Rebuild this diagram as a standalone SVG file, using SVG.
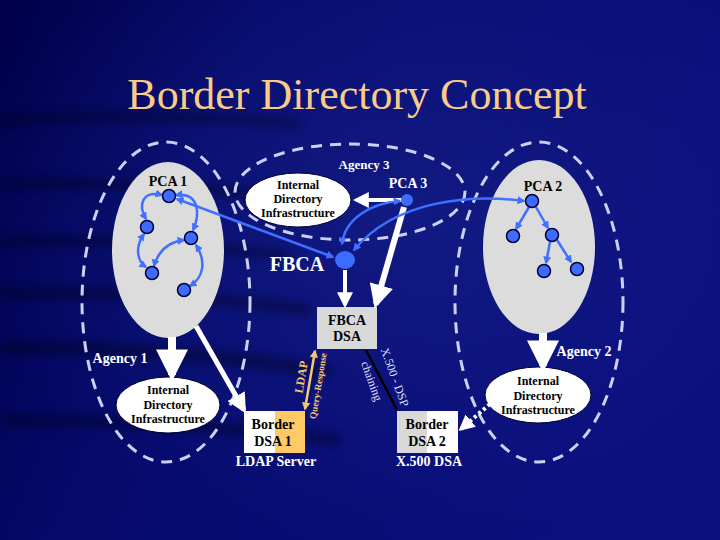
<svg xmlns="http://www.w3.org/2000/svg" width="720" height="540" viewBox="0 0 720 540">
<defs>
<linearGradient id="bg" x1="0" y1="0" x2="1" y2="0.3">
<stop offset="0" stop-color="#00004a"/>
<stop offset="0.35" stop-color="#050a6a"/>
<stop offset="1" stop-color="#0a0f7e"/>
</linearGradient>
<radialGradient id="glow" cx="0.55" cy="0.4" r="0.6">
<stop offset="0" stop-color="#1a2690" stop-opacity="0.55"/>
<stop offset="1" stop-color="#1a2690" stop-opacity="0"/>
</radialGradient>
<filter id="blur" x="-20%" y="-50%" width="140%" height="200%"><feGaussianBlur stdDeviation="4"/></filter>
<marker id="ab" viewBox="0 0 10 10" refX="8" refY="5" markerWidth="8" markerHeight="8" markerUnits="userSpaceOnUse" orient="auto-start-reverse">
<path d="M0,0 L10,5 L0,10 z" fill="#4070ff"/>
</marker>
<marker id="aw" viewBox="0 0 10 10" refX="8" refY="5" markerWidth="4" markerHeight="4" orient="auto">
<path d="M0,0 L10,5 L0,10 z" fill="#ffffff"/>
</marker>
<marker id="aw2" viewBox="0 0 10 10" refX="8" refY="5" markerWidth="3" markerHeight="3" orient="auto">
<path d="M0,0 L10,5 L0,10 z" fill="#ffffff"/>
</marker>
<marker id="at" viewBox="0 0 10 10" refX="8" refY="5" markerWidth="8" markerHeight="8" markerUnits="userSpaceOnUse" orient="auto-start-reverse">
<path d="M0,0 L10,5 L0,10 z" fill="#f3c676"/>
</marker>
<style>
.t{font-family:"Liberation Serif",serif;font-weight:bold;}
.r{font-family:"Liberation Serif",serif;font-weight:400;font-style:normal;}
.w{fill:#ffffff;}
.k{fill:#000000;}
.dash{fill:none;stroke:#cdd0f4;stroke-width:3;stroke-dasharray:11 8;}
.gray{fill:#dcdcdc;}
.ell{fill:#ffffff;stroke:#000033;stroke-width:1;}
.node{fill:#3d6bff;stroke:#000033;stroke-width:1.5;}
.bl{fill:none;stroke:#4070ff;stroke-width:2.5;marker-start:url(#ab);marker-end:url(#ab);}
.bs{fill:none;stroke:#4070ff;stroke-width:2.5;marker-end:url(#ab);}
.wa{fill:none;stroke:#ffffff;marker-end:url(#aw);}
</style>
</defs>

<rect width="720" height="540" fill="url(#bg)"/>
<rect width="720" height="540" fill="url(#glow)"/>
<g opacity="0.4" filter="url(#blur)" fill="none" stroke="#000010">
<path d="M0,120 C100,114 200,116 300,124" stroke-width="8"/>
<path d="M0,185 C90,180 180,186 260,194" stroke-width="9"/>
<path d="M0,242 C100,238 200,244 290,256" stroke-width="9"/>
<path d="M0,294 C110,290 220,298 310,310" stroke-width="10"/>
<path d="M0,348 C110,346 220,354 330,372" stroke-width="12"/>
<path d="M0,420 C120,420 240,428 340,440" stroke-width="10"/>
</g>

<text class="r" x="357" y="109" font-size="44" fill="#f8cc88" text-anchor="middle">Border Directory Concept</text>

<g id="agency1">
<ellipse class="dash" cx="166" cy="302" rx="84" ry="160"/>
<text class="t w" x="120" y="363" font-size="14" text-anchor="middle">Agency 1</text>
</g>
<g id="agency3">
<ellipse class="dash" cx="350" cy="192" rx="115" ry="48"/>
<text class="t w" x="364" y="169" font-size="13" text-anchor="middle">Agency 3</text>
</g>
<g id="agency2">
<ellipse class="dash" cx="539" cy="302" rx="84" ry="160"/>
<text class="t w" x="584" y="356" font-size="14" text-anchor="middle">Agency 2</text>
</g>

<g id="pca1">
<ellipse class="gray" cx="168" cy="250" rx="56" ry="88"/>
<text class="t k" x="168" y="186" font-size="14" text-anchor="middle">PCA 1</text>
</g>
<g id="pca2">
<ellipse class="gray" cx="539" cy="247" rx="56" ry="87"/>
<text class="t k" x="543" y="191" font-size="14" text-anchor="middle">PCA 2</text>
</g>

<g id="idi3">
<ellipse class="ell" cx="298" cy="200" rx="53" ry="27"/>
<text class="t k" font-size="12" text-anchor="middle"><tspan x="298" y="189">Internal</tspan><tspan x="298" y="203">Directory</tspan><tspan x="298" y="217">Infrastructure</tspan></text>
</g>
<g id="idi1">
<ellipse class="ell" cx="168" cy="405" rx="52" ry="28"/>
<text class="t k" font-size="12" text-anchor="middle"><tspan x="168" y="394">Internal</tspan><tspan x="168" y="409">Directory</tspan><tspan x="168" y="423">Infrastructure</tspan></text>
</g>
<g id="idi2">
<ellipse class="ell" cx="538" cy="395" rx="53" ry="28"/>
<text class="t k" font-size="12" text-anchor="middle"><tspan x="538" y="385">Internal</tspan><tspan x="538" y="400">Directory</tspan><tspan x="538" y="414">Infrastructure</tspan></text>
</g>

<g id="fbca-dsa">
<rect x="317" y="307" width="60" height="42" fill="#d9d9d9"/>
<text class="t k" font-size="14" text-anchor="middle"><tspan x="347" y="325">FBCA</tspan><tspan x="347" y="341">DSA</tspan></text>
</g>
<g id="border-dsa1">
<rect x="244" y="411" width="31" height="42" fill="#ffffff"/>
<rect x="275" y="411" width="30" height="42" fill="#ffc966"/>
<text class="t k" font-size="14" text-anchor="middle"><tspan x="273" y="429">Border</tspan><tspan x="273" y="446">DSA 1</tspan></text>
<text class="t w" x="276" y="466" font-size="14" text-anchor="middle">LDAP Server</text>
</g>
<g id="border-dsa2">
<rect x="397" y="411" width="30" height="42" fill="#d9d9d9"/>
<rect x="427" y="411" width="31" height="42" fill="#ffffff"/>
<text class="t k" font-size="14" text-anchor="middle"><tspan x="427" y="429">Border</tspan><tspan x="427" y="446">DSA 2</tspan></text>
<text class="t w" x="429" y="466" font-size="14" text-anchor="middle">X.500 DSA</text>
</g>

<g id="connectors">
<line class="wa" x1="405" y1="200" x2="356" y2="200" stroke-width="4"/>
<line class="wa" x1="404" y1="207" x2="376" y2="304" stroke-width="6"/>
<line class="wa" x1="345" y1="270" x2="345" y2="305" stroke-width="4"/>
<line class="wa" x1="172" y1="337" x2="172" y2="375" stroke-width="8" marker-end="url(#aw2)"/>
<line class="wa" x1="543" y1="333" x2="543" y2="366" stroke-width="8" marker-end="url(#aw2)"/>
<line class="wa" x1="196" y1="326" x2="244" y2="410" stroke-width="5"/>
<line x1="490" y1="404" x2="461" y2="429" stroke="#ffffff" stroke-width="4" stroke-dasharray="3 3" marker-end="url(#aw)"/>
<line x1="315" y1="351" x2="305" y2="409" stroke="#f3c676" stroke-width="2.5" marker-start="url(#at)" marker-end="url(#at)"/>
<line x1="366" y1="350" x2="397" y2="410" stroke="#000000" stroke-width="2.5"/>
<path class="bl" d="M177,199 L333,257"/>
<path class="bl" d="M400,201 C372,203 345,218 342,244"/>
<path class="bl" d="M524,201 C470,194 395,200 354,250"/>
<path class="bl" d="M162,195 C142,190 138,205 146,219"/>
<path class="bl" d="M176,195 C200,192 200,215 193,230"/>
<path class="bl" d="M144,234 C134,248 138,262 146,267"/>
<path class="bl" d="M184,240 C168,242 158,252 154,266"/>
<path class="bl" d="M196,245 C207,262 203,278 190,286"/>
<path class="bs" d="M529,207 L516,229"/>
<path class="bs" d="M536,207 L548,228"/>
<path class="bs" d="M550,242 L546,263"/>
<path class="bs" d="M557,240 L571,262"/>
<text class="t" font-size="12" fill="#f3c676" text-anchor="middle" transform="translate(301,377) rotate(-80.5)" dy="0.35em">LDAP</text>
<text class="t" font-size="9.5" fill="#f3c676" text-anchor="middle" transform="translate(318,386) rotate(-80.5)" dy="0.35em">Query-Response</text>
<text class="r" font-size="12" fill="#dcdfff" text-anchor="middle" transform="translate(395,377) rotate(70)" dy="0.35em">X.500 - DSP</text>
<text class="r" font-size="12" fill="#dcdfff" text-anchor="middle" transform="translate(372,381) rotate(70)" dy="0.35em">chaining</text>
</g>

<g id="pca1-nodes">
<circle class="node" cx="169" cy="196" r="6.5"/>
<circle class="node" cx="147" cy="227" r="6.5"/>
<circle class="node" cx="191" cy="238" r="6.5"/>
<circle class="node" cx="152" cy="273" r="6.5"/>
<circle class="node" cx="184" cy="290" r="6.5"/>
</g>
<g id="pca2-nodes">
<circle class="node" cx="532" cy="201" r="6.5"/>
<circle class="node" cx="513" cy="236" r="6.5"/>
<circle class="node" cx="552" cy="235" r="6.5"/>
<circle class="node" cx="544" cy="271" r="6.5"/>
<circle class="node" cx="577" cy="269" r="6.5"/>
</g>
<g id="pca3">
<circle cx="407" cy="200" r="6" fill="#3d6bff"/>
<text class="t w" x="408" y="188" font-size="14" text-anchor="middle">PCA 3</text>
</g>
<g id="fbca">
<ellipse cx="345" cy="260" rx="10" ry="9" fill="#3d6bff"/>
<text class="t w" x="297" y="271" font-size="20" text-anchor="middle">FBCA</text>
</g>
</svg>
